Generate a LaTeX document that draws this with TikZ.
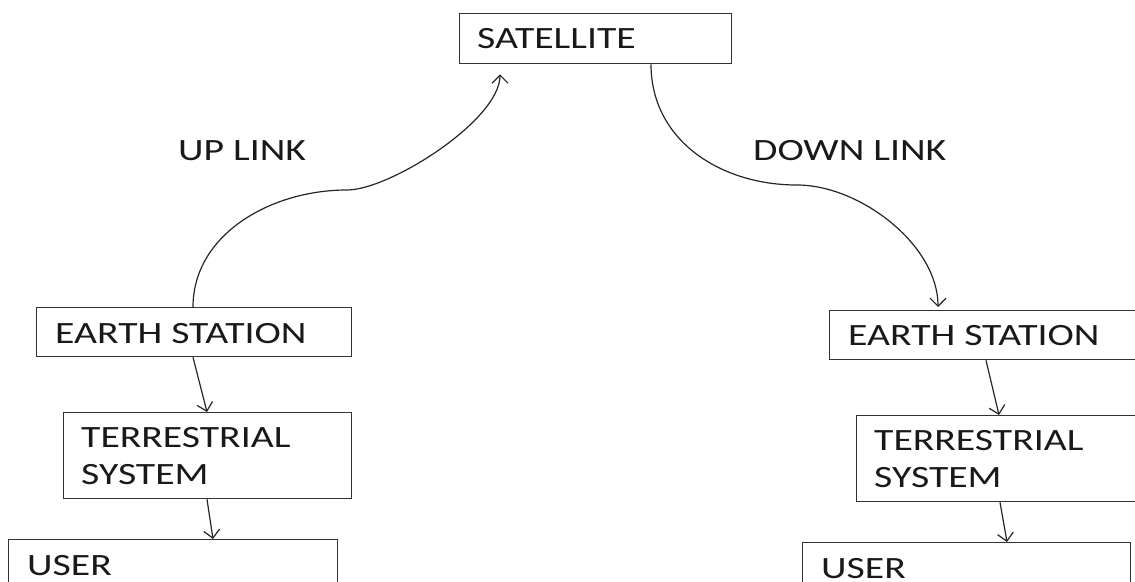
\documentclass[tikz,border=0pt]{standalone}
\usepackage{fontspec}
\setmainfont{Carlito}[FakeStretch=1.28]
\usetikzlibrary{arrows.meta,calc}
\begin{document}
\begin{tikzpicture}[x=1pt,y=-1pt,
  box/.style={draw=black!80,line width=1.3pt,rectangle,inner sep=0pt,anchor=north west},
  lbl/.style={anchor=base west,inner sep=0pt,font=\fontsize{31}{37}\selectfont,text=black!90},
  link/.style={draw=black!85,line width=1.2pt,-{Straight Barb[length=8pt,width=16pt,line width=1.2pt]}}]
\useasboundingbox (0,0) rectangle (1135,581);
\clip (0,0) rectangle (1135,581);
\fill[white] (0,0) rectangle (1135,581);
% boxes
\node[box,minimum width=272pt,minimum height=50pt] (sat) at (459,13) {};
\node[box,minimum width=315pt,minimum height=49pt] (es1) at (36,307) {};
\node[box,minimum width=288pt,minimum height=86pt] (ts1) at (63,412) {};
\node[box,minimum width=329pt,minimum height=80pt] (us1) at (8,539) {};
\node[box,minimum width=330pt,minimum height=49pt] (es2) at (829,310) {};
\node[box,minimum width=300pt,minimum height=86pt] (ts2) at (856,415) {};
\node[box,minimum width=328pt,minimum height=80pt] (us2) at (802,542) {};
% texts
\node[lbl] (tsat) at (477,48) {SATELLITE};
\node[lbl] (tup) at (178,160) {UP LINK};
\node[lbl] (tdown) at (753,160) {DOWN LINK};
\node[lbl] (tes1) at (55,343) {EARTH STATION};
\node[lbl] (tts1a) at (81,447) {TERRESTRIAL};
\node[lbl] (tts1b) at (81,484) {SYSTEM};
\node[lbl] (tus1) at (27,575) {USER};
\node[lbl] (tes2) at (848,345) {EARTH STATION};
\node[lbl] (tts2a) at (874,450) {TERRESTRIAL};
\node[lbl] (tts2b) at (874,487) {SYSTEM};
\node[lbl] (tus2) at (821,578) {USER};
% links
\coordinate (upmid) at (347,190);
\coordinate (downmid) at (797,185);
\draw[link] ([xshift=157pt]es1.north west) .. controls (193,235) and (270,190) .. (upmid)
  .. controls (390,190) and (500,120) .. ([xshift=41pt,yshift=-10pt]sat.south west);
\draw[link] ([xshift=192pt]sat.south west) .. controls (651,140) and (720,185) .. (downmid)
  .. controls (860,185) and (938,245) .. ([xshift=109pt,yshift=3pt]es2.north west);
% chains
\draw[link] ([xshift=157pt]es1.south west) -- ([xshift=144pt]ts1.north west);
\draw[link] ([xshift=144pt]ts1.south west) -- ([xshift=205pt]us1.north west);
\draw[link] ([xshift=157pt]es2.south west) -- ([xshift=143pt]ts2.north west);
\draw[link] ([xshift=144pt]ts2.south west) -- ([xshift=205pt]us2.north west);
\end{tikzpicture}
\end{document}
